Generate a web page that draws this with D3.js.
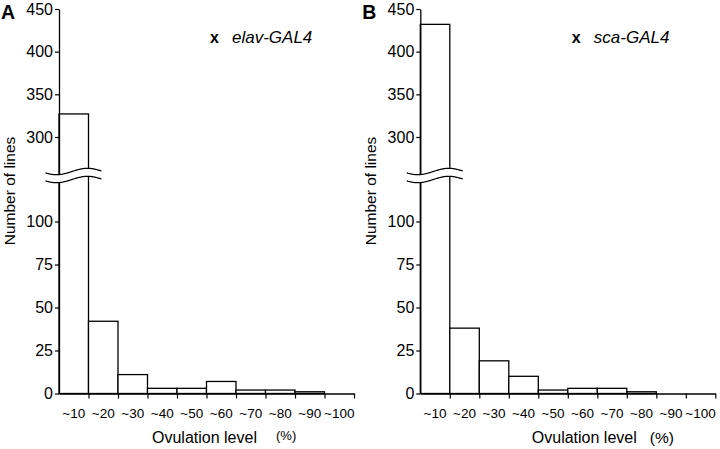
<!DOCTYPE html>
<html>
<head>
<meta charset="utf-8">
<script src="https://cdn.jsdelivr.net/npm/d3@7"></script>
<style>
  html, body { margin: 0; padding: 0; background: #fff; }
  svg { display: block; }
  text { font-family: "Liberation Sans", Arial, Helvetica, sans-serif; fill: #000; }
</style>
</head>
<body>
<svg id="chart" width="720" height="449"></svg>
<script>
// ---- data ----
const categories = ["~10", "~20", "~30", "~40", "~50", "~60", "~70", "~80", "~90", "~100"];
const elavValues = [327, 42, 11, 3, 3, 7, 2, 2, 1, 0];
const scaValues  = [432, 38, 19, 10, 2, 3, 3, 1, 0, 0];
const lowerTicks = [0, 25, 50, 75, 100];
const upperTicks = [300, 350, 400, 450];
const panelLetters = ["A", "B"];
const panelTitles = ["elav-GAL4", "sca-GAL4"];
const yLabel = "Number of lines";
const xLabel = "Ovulation level";
const pctLabel = "(%)";

const svg = d3.select("#chart");

// broken (piecewise) y scale: lower segment 0-125, upper segment 262-450
const y = d3.scaleLinear()
  .domain([0, 125, 262, 450])
  .range([393.5, 178.5, 169.4, 9]);

function drawPanel(cfg) {
  const g = svg.append("g").attr("transform", `translate(${cfg.x0},0)`);
  const x = d3.scaleBand().domain(categories).range([0, 295]).paddingInner(0).paddingOuter(0);
  const xl = d3.scaleLinear().domain([0, categories.length]).range([0, 295]);

  // bars
  g.selectAll("rect.bar")
    .data(cfg.values.map((v, i) => ({ c: categories[i], v })).filter(d => d.v > 0))
    .join("rect")
    .attr("class", "bar")
    .attr("x", d => x(d.c))
    .attr("width", x.bandwidth())
    .attr("y", d => y(d.v))
    .attr("height", d => y(0) - y(d.v))
    .attr("fill", "#fff")
    .attr("stroke", "#000")
    .attr("stroke-width", 1.3);

  // y axis
  const yAxis = d3.axisLeft(y)
    .tickValues(lowerTicks.concat(upperTicks))
    .tickSize(4)
    .tickSizeOuter(0)
    .tickPadding(2)
    .tickFormat(d3.format("d"));
  const ya = g.append("g").call(yAxis);
  ya.select(".domain").attr("stroke", "#000").attr("stroke-width", 1.3);
  ya.selectAll(".tick line").attr("stroke", "#000").attr("stroke-width", 1.2);
  ya.selectAll(".tick text")
    .style("font-family", '"Liberation Sans", Arial, Helvetica, sans-serif')
    .style("font-size", "16px")
    .attr("fill", "#000");

  // x axis (ticks at bin boundaries)
  const xAxis = d3.axisBottom(xl)
    .tickValues(d3.range(1, categories.length + 1))
    .tickSize(5)
    .tickSizeOuter(0)
    .tickFormat("");
  const xa = g.append("g").attr("transform", `translate(0,${y(0)})`).call(xAxis);
  xa.select(".domain").attr("stroke", "#000").attr("stroke-width", 1.3);
  xa.selectAll(".tick line").attr("stroke", "#000").attr("stroke-width", 1.2);

  // category labels centred under bins
  g.selectAll("text.cat")
    .data(categories)
    .join("text")
    .attr("class", "cat")
    .attr("x", d => x(d) + x.bandwidth() / 2)
    .attr("y", 417.5)
    .attr("text-anchor", "middle")
    .style("font-size", "13.5px")
    .text(d => d);

  // axis break (wavy lines)
  const waveX = d3.range(-13.5, 42.6, 1);
  const wave = (off) => waveX.map(t => [t, 171.5 + off + 3.2 * Math.sin((t - 13) / 31 * Math.PI + Math.PI)]);
  const top = wave(0), bot = wave(8);
  const band = top.concat(bot.slice().reverse());
  g.append("path")
    .attr("d", d3.line()(band) + "Z")
    .attr("fill", "#fff")
    .attr("stroke", "none");
  [top, bot].forEach(w => g.append("path")
    .attr("d", d3.line()(w))
    .attr("fill", "none")
    .attr("stroke", "#000")
    .attr("stroke-width", 1.2));

  // panel letter
  svg.append("text")
    .attr("x", cfg.x0 - 58)
    .attr("y", 18.5)
    .style("font-size", "19.5px")
    .style("font-weight", "bold")
    .text(cfg.letter);

  // title: x  genotype
  g.append("text").attr("x", cfg.titleX).attr("y", 43)
    .style("font-size", "16px").style("font-weight", "bold").text("x");
  g.append("text").attr("x", cfg.titleX + 22).attr("y", 43)
    .style("font-size", "17px").style("font-style", "italic").text(cfg.title);

  // y label
  svg.append("text")
    .attr("transform", `translate(${cfg.x0 - 44.5},191) rotate(-90)`)
    .attr("text-anchor", "middle")
    .style("font-size", "15.5px")
    .text(yLabel);

  // x label
  g.append("text").attr("x", cfg.xlabX).attr("y", 443)
    .style("font-size", "16px").text(xLabel);
  g.append("text").attr("x", cfg.pctX).attr("y", cfg.pctY)
    .style("font-size", cfg.pctSize).text(pctLabel);
}

drawPanel({ x0: 59, values: elavValues, letter: panelLetters[0], title: panelTitles[0],
  titleX: 151, xlabX: 93, pctX: 217, pctY: 440, pctSize: "13px" });
drawPanel({ x0: 420.3, values: scaValues, letter: panelLetters[1], title: panelTitles[1],
  titleX: 151.5, xlabX: 111.5, pctX: 229.5, pctY: 443, pctSize: "15.5px" });
</script>
</body>
</html>
